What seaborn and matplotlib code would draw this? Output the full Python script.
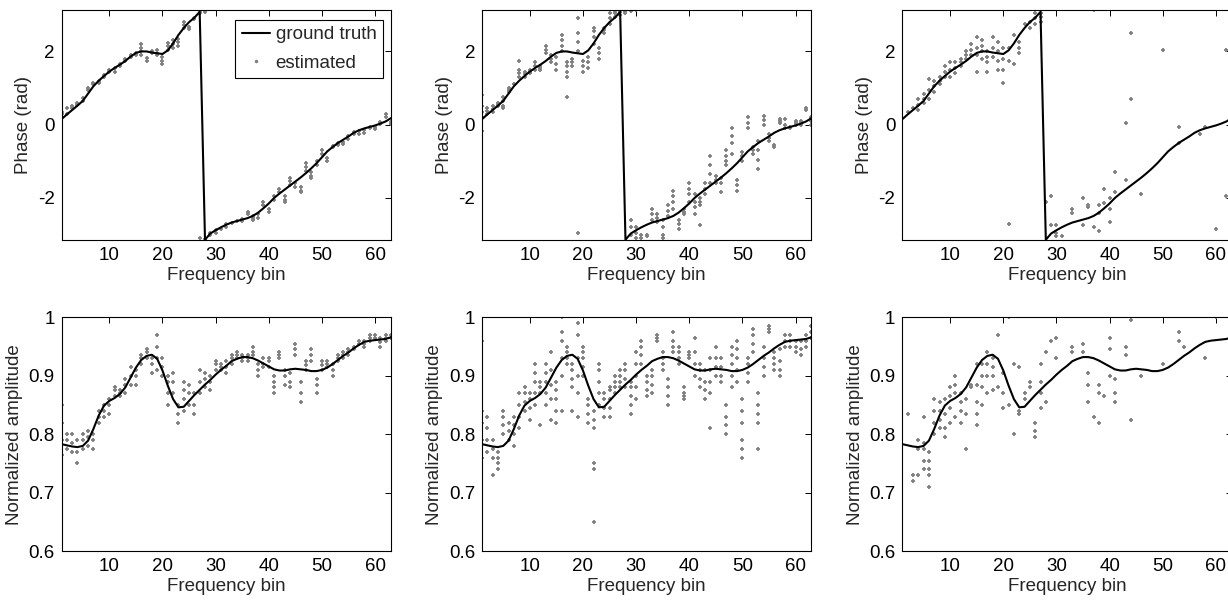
import matplotlib
matplotlib.use("Agg")
import matplotlib.pyplot as plt
from matplotlib.lines import Line2D
import seaborn as sns
import pandas as pd
import numpy as np

bins = list(range(1, 64))

phase_true = [0.15, 0.28, 0.40, 0.52, 0.65, 0.85, 1.05, 1.20, 1.33, 1.45,
              1.55, 1.64, 1.74, 1.86, 1.96, 2.00, 2.00, 1.97, 1.95, 1.93,
              2.03, 2.22, 2.45, 2.64, 2.80, 2.92, 3.08, -3.14, -2.97, -2.88,
              -2.80, -2.73, -2.67, -2.63, -2.59, -2.55, -2.49, -2.40, -2.28, -2.15,
              -2.00, -1.88, -1.77, -1.66, -1.55, -1.44, -1.32, -1.19, -1.05, -0.89,
              -0.73, -0.61, -0.50, -0.41, -0.32, -0.22, -0.15, -0.10, -0.06, -0.02,
              0.03, 0.09, 0.18]

amp_true = [0.783, 0.781, 0.779, 0.778, 0.780, 0.789, 0.809, 0.832, 0.849, 0.857,
            0.862, 0.869, 0.880, 0.897, 0.914, 0.927, 0.934, 0.936, 0.929, 0.909,
            0.883, 0.860, 0.846, 0.847, 0.857, 0.867, 0.876, 0.885, 0.893, 0.902,
            0.910, 0.917, 0.925, 0.929, 0.932, 0.932, 0.930, 0.926, 0.921, 0.916,
            0.911, 0.909, 0.909, 0.911, 0.912, 0.911, 0.910, 0.908, 0.908, 0.910,
            0.914, 0.920, 0.927, 0.934, 0.940, 0.947, 0.953, 0.958, 0.960, 0.961,
            0.962, 0.963, 0.966]

# estimated values per frequency bin (bin 1 .. 63)
phase_est_low = [
    [0.2, 0.3, 0.35], [0.3, 0.45], [0.45, 0.5], [0.55, 0.6], [0.65, 0.72],
    [0.95, 1.0], [1.1, 1.15], [1.15, 1.2], [1.3, 1.35], [1.45, 1.5],
    [1.45, 1.55], [1.6, 1.65], [1.75, 1.8], [1.85, 1.9], [1.9, 1.95],
    [1.9, 2.0, 2.1, 2.2], [1.75, 1.82], [1.95, 2.0], [1.9, 1.95, 2.05], [1.65, 1.75, 1.85],
    [2.05, 2.15, 2.22], [2.1, 2.2, 2.3], [2.15, 2.25, 2.35], [2.65, 2.72, 2.8], [2.6, 2.68],
    [2.88, 2.92], [3.05, 3.1, -3.1], [3.08, -3.12], [-3.0, -2.95], [-2.95, -2.88],
    [-2.85], [-2.78, -2.72], [-2.68], [-2.62], [-2.58, -2.62],
    [-2.38, -2.45], [-2.5, -2.55, -2.6], [-2.45, -2.55], [-2.1, -2.2], [-2.3, -2.38],
    [-1.95, -2.05], [-1.75, -1.85], [-1.95, -2.05, -2.1], [-1.45, -1.55, -1.65], [-1.6, -1.7],
    [-1.7, -1.8, -1.85], [-1.05, -1.15, -1.25], [-1.3, -1.4, -1.45], [-1.0, -1.1], [-0.7, -0.8],
    [-0.9, -1.0], [-0.58, -0.62], [-0.5, -0.55], [-0.48, -0.52], [-0.3, -0.38],
    [-0.2, -0.25], [-0.18, -0.25], [-0.15, -0.22], [-0.05, -0.1], [-0.05, -0.12],
    [0.02, 0.08], [0.2, 0.28], [0.02, 0.08]]

phase_est_mid = [
    [0.8, 0.5, 0.35, 0.2, -0.18], [0.3, 0.38, 0.45], [0.35, 0.42, 0.5], [0.5, 0.55, 0.6], [0.45, 0.5, 0.65, 0.75],
    [0.9, 0.95, 1.0], [1.1, 1.12], [1.3, 1.4, 1.5, 1.75], [1.3, 1.38, 1.45], [1.4, 1.45, 1.5],
    [1.5, 1.6, 1.7], [1.5, 1.55, 1.6], [1.95, 2.05, 2.15], [1.7, 1.8, 1.9], [1.5, 1.65, 1.85],
    [2.0, 2.15, 2.3, 2.45], [1.3, 1.45, 1.6, 1.7, 0.75], [1.6, 1.7, 1.8], [2.9, 2.5, 2.25, 2.0, -2.95], [1.45, 1.6, 1.75],
    [1.55, 1.7, 1.85], [2.2, 2.4, 2.55, 2.65], [1.8, 1.95, 2.1], [2.5, 2.58, 2.65], [2.75, 2.9, 3.05],
    [2.95, 3.05, 3.1], [3.0, 3.08, 3.14], [3.05, 3.1, 3.14], [3.1, -2.6, -2.8, -3.0], [3.14, -2.8, -2.95, -3.1],
    [-3.0, -3.1], [-3.05, -3.0], [-2.3, -2.45, -2.6], [-2.45, -2.55, -2.65], [-2.6, -2.8, -3.0, -3.1],
    [-2.2, -2.35, -2.5], [-1.8, -1.95, -2.1, -2.3], [-2.6, -2.72, -2.85], [-2.3, -2.38, -2.45], [-1.6, -1.75, -1.9, -2.1],
    [-1.9, -2.1, -2.25, -2.45], [-2.0, -2.1, -2.2, -2.75], [-1.6, -1.75, -1.9], [-0.85, -1.1, -1.35, -1.6], [-1.4, -1.5, -1.6],
    [-1.45, -1.6, -1.85], [-0.7, -0.85, -1.0, -1.1], [-0.1, -0.3, -0.5, -0.8], [-1.5, -1.65, -1.8], [-0.75, -0.85, -1.0],
    [0.2, 0.05, -0.1], [-0.6, -0.7, -0.8], [-0.45, -0.7, -0.95, -1.2], [0.25, 0.12, 0.0], [-0.25, -0.35, -0.45],
    [-0.55, -0.62], [0.05, 0.1, 0.15], [-0.1, 0.0, 0.15], [-0.05, -0.1], [0.0, 0.05, 0.1],
    [0.0, 0.05, 0.1], [0.4, 0.45], [0.0, 0.1, 0.2]]

phase_est_high = [
    [], [0.35], [0.45], [0.4, 0.55, 0.7], [0.6, 0.7, 0.85],
    [0.7, 0.95, 1.25], [0.9, 1.05, 1.2], [1.1, 1.2, 1.3], [1.3, 1.45, 1.6], [1.3, 1.5, 1.7],
    [1.4, 1.55, 1.7], [1.6, 1.7, 1.8], [1.8, 1.9, 2.0], [1.9, 2.05, 2.2], [1.45, 1.9, 2.1, 2.4],
    [1.8, 2.0, 2.15, 2.3], [1.45, 1.7, 1.85, 2.0], [1.85, 2.1, 2.4], [1.5, 1.75, 2.0, 2.25], [1.15, 1.5, 1.8, 2.1],
    [1.75, 2.1, -2.7], [1.65, 2.45], [1.95, 2.1, 2.25], [2.75], [2.65, 2.8],
    [2.75, 2.9, 3.05], [2.8, 2.95, 3.05], [-2.1], [-1.95, -2.75], [-2.75, -2.95, -3.05],
    [-3.05], [], [-2.3, -2.4], [], [-2.0, -2.75],
    [-2.2, -2.25], [3.12, -2.8], [-2.2, -2.4, -2.9], [-1.75, -2.15], [-2.0, -2.3, -2.65],
    [-1.3, -1.85], [], [-1.5, 0.05], [2.5, 0.7], [],
    [-1.9], [], [], [], [2.05],
    [], [], [-0.05, -0.5], [], [],
    [], [-0.25], [-0.05], [], [-2.85],
    [], [2.05, -1.95], []]

amp_est_low = [
    [0.765, 0.79, 0.82, 0.85], [0.775, 0.79, 0.8], [0.77, 0.785, 0.8], [0.75, 0.77, 0.79], [0.775, 0.79, 0.8],
    [0.78, 0.795, 0.805], [0.775, 0.79, 0.8], [0.82, 0.83, 0.84], [0.83, 0.84, 0.85], [0.835, 0.85, 0.86],
    [0.865, 0.875, 0.88], [0.865, 0.87, 0.875], [0.87, 0.885, 0.895], [0.885, 0.9, 0.915], [0.885, 0.9, 0.91],
    [0.92, 0.93, 0.935], [0.93, 0.94, 0.945], [0.905, 0.92, 0.93], [0.91, 0.93, 0.95, 0.97], [0.9, 0.915, 0.93],
    [0.85, 0.87, 0.89, 0.9], [0.87, 0.89, 0.905], [0.82, 0.835, 0.85], [0.84, 0.86, 0.875, 0.89], [0.85, 0.87, 0.885],
    [0.835, 0.85, 0.87], [0.87, 0.89, 0.91], [0.88, 0.895, 0.905], [0.875, 0.89, 0.9], [0.91, 0.92, 0.925],
    [0.91, 0.915, 0.92], [0.905, 0.915, 0.925], [0.92, 0.93, 0.935], [0.93, 0.935, 0.94], [0.925, 0.93, 0.935],
    [0.925, 0.93, 0.935], [0.935, 0.94, 0.95], [0.9, 0.91, 0.92], [0.915, 0.92, 0.93], [0.915, 0.925, 0.93],
    [0.87, 0.88, 0.89, 0.9], [0.93, 0.935, 0.94], [0.885, 0.9, 0.91], [0.88, 0.89, 0.905], [0.935, 0.945, 0.955],
    [0.855, 0.87, 0.89], [0.91, 0.918, 0.925], [0.925, 0.935, 0.945], [0.87, 0.885, 0.895], [0.91, 0.918, 0.925],
    [0.915, 0.92, 0.925], [0.9, 0.91, 0.92], [0.925, 0.93, 0.935], [0.93, 0.935, 0.94], [0.935, 0.94, 0.945],
    [0.945, 0.95], [0.955, 0.96], [0.95, 0.955, 0.96], [0.96, 0.965, 0.97], [0.965, 0.97],
    [0.95, 0.958, 0.965], [0.96, 0.965, 0.97], [0.965, 0.97]]

amp_est_mid = [
    [0.76, 0.79, 0.82, 0.84, 0.96], [0.77, 0.79, 0.81, 0.83], [0.73, 0.76, 0.775, 0.79], [0.74, 0.75, 0.76, 0.77], [0.8, 0.815, 0.83, 0.84],
    [0.79, 0.805, 0.82], [0.78, 0.8, 0.815, 0.83], [0.81, 0.83, 0.85, 0.87], [0.84, 0.855, 0.87, 0.88], [0.825, 0.845, 0.86, 0.87],
    [0.85, 0.87, 0.89, 0.905, 0.92], [0.815, 0.87, 0.88, 0.89], [0.85, 0.87, 0.89, 0.905, 0.92], [0.825, 0.86, 0.885, 0.91, 0.94], [0.82, 0.84, 0.86, 0.875, 0.89],
    [0.84, 0.9, 0.93, 0.96, 0.975, 1.0], [0.92, 0.93, 0.94, 0.95], [0.84, 0.88, 0.895, 0.91, 0.92], [0.83, 0.87, 0.9, 0.93, 0.97, 0.99], [0.9, 0.915, 0.93, 0.94, 0.95],
    [0.82, 0.835, 0.85, 0.86], [0.65, 0.74, 0.75, 0.81, 0.825, 0.84], [0.85, 0.87, 0.89, 0.91, 0.92], [0.83, 0.845, 0.86, 0.87], [0.83, 0.845, 0.86, 0.875, 0.88],
    [0.87, 0.88, 0.89, 0.9], [0.88, 0.89, 0.9, 0.91], [0.88, 0.895, 0.91, 0.92], [0.835, 0.85, 0.865, 0.88, 0.89], [0.86, 0.88, 0.9, 0.92, 0.94],
    [0.92, 0.935, 0.95, 0.96], [0.865, 0.875, 0.89, 0.9], [0.87, 0.885, 0.9, 0.91], [0.96, 0.965, 0.97], [0.91, 0.92, 0.93, 0.94],
    [0.85, 0.865, 0.88, 0.895], [0.94, 0.95, 0.96, 0.975], [0.92, 0.93, 0.94, 0.95], [0.86, 0.865, 0.87, 0.88], [0.93, 0.935, 0.94],
    [0.9, 0.92, 0.94, 0.965], [0.88, 0.895, 0.91, 0.92], [0.86, 0.875, 0.89, 0.91], [0.81, 0.87, 0.89, 0.91, 0.93], [0.9, 0.915, 0.93, 0.95],
    [0.89, 0.9, 0.915, 0.93], [0.8, 0.815, 0.83, 0.85], [0.88, 0.9, 0.92, 0.935, 0.95], [0.89, 0.91, 0.93, 0.945, 0.96], [0.76, 0.775, 0.79, 0.82, 0.84, 0.86],
    [0.89, 0.905, 0.92, 0.93], [0.94, 0.955, 0.97, 0.98], [0.775, 0.82, 0.835, 0.85, 0.87], [0.9, 0.915, 0.93, 0.95], [0.975, 0.98, 0.985],
    [0.91, 0.92, 0.93, 0.94], [0.9, 0.91, 0.925, 0.945], [0.95, 0.96, 0.97], [0.95, 0.96, 0.97], [0.94, 0.95, 0.96],
    [0.935, 0.945, 0.96], [0.95, 0.96, 0.97], [0.965, 0.975, 0.985]]

amp_est_high = [
    [], [0.835], [0.72, 0.73], [0.73, 0.775, 0.79], [0.74, 0.755, 0.775, 0.785, 0.83],
    [0.71, 0.73, 0.74, 0.755, 0.77], [0.8, 0.82, 0.84, 0.86], [0.81, 0.825, 0.84, 0.855], [0.795, 0.81, 0.835, 0.86], [0.82, 0.845, 0.865, 0.88],
    [0.83, 0.87, 0.885, 0.9], [0.82, 0.84, 0.855, 0.87], [0.775, 0.835, 0.86], [0.88, 0.885], [0.815, 0.835, 0.855, 0.885, 0.92],
    [0.85, 0.88, 0.9, 0.92], [0.87, 0.9, 0.92, 0.94], [0.875, 0.9, 0.915, 0.93], [0.88, 0.97], [0.845, 0.87, 0.905],
    [0.85, 1.0], [0.8, 0.92], [0.835, 0.84, 0.915], [0.86, 0.87], [0.88, 0.89],
    [0.795, 0.805, 0.82], [0.845, 0.87, 0.89, 0.92], [0.855, 0.94], [0.96], [0.93, 0.965],
    [], [], [0.94, 0.95], [], [0.94, 0.955],
    [0.855, 0.885, 0.905], [0.83], [0.82, 0.87, 0.885], [0.865], [0.9, 0.945, 0.965],
    [0.855, 0.87, 0.895], [], [0.935, 0.95], [0.825, 0.995], [],
    [0.9], [], [], [], [0.92],
    [], [], [0.96, 0.975], [0.95], [],
    [], [], [0.93], [], [1.0],
    [], [], []]


def to_frame(est):
    xs, ys = [], []
    for b, vals in zip(bins, est):
        for v in vals:
            xs.append(b)
            ys.append(v)
    return pd.DataFrame({"bin": xs, "value": ys})


sns.set_style("white")
plt.rcParams["font.family"] = ["Liberation Sans", "DejaVu Sans"]
plt.rcParams["axes.unicode_minus"] = False

fig = plt.figure(figsize=(12.28, 6.01), dpi=100)

lefts = [0.0501, 0.3925, 0.7348]
width = 0.2683
top_row = (0.601, 0.383)
bottom_row = (0.083, 0.389)

phase_sets = [phase_est_low, phase_est_mid, phase_est_high]
amp_sets = [amp_est_low, amp_est_mid, amp_est_high]

gray = "#808080"


def style_axes(ax):
    for s in ax.spines.values():
        s.set_visible(True)
        s.set_color("black")
        s.set_linewidth(0.8)
    ax.tick_params(direction="in", length=4, width=0.7, top=True, right=True,
                   labelsize=13.5, colors="black", pad=5)
    ax.set_xlim(1, 63)
    ax.set_xticks([10, 20, 30, 40, 50, 60])
    ax.set_xlabel("Frequency bin", fontsize=13.5, labelpad=2)


for i in range(3):
    # phase row
    ax = fig.add_axes([lefts[i], top_row[0], width, top_row[1]])
    df = to_frame(phase_sets[i])
    sns.scatterplot(data=df, x="bin", y="value", ax=ax, marker="+", color=gray,
                    s=10, linewidth=1.3, legend=False, zorder=2)
    sns.lineplot(x=bins, y=phase_true, ax=ax, color="black", linewidth=1.5,
                 zorder=3)
    style_axes(ax)
    ax.set_ylim(-np.pi, np.pi)
    ax.set_yticks([-2, 0, 2])
    ax.set_ylabel("Phase (rad)", fontsize=13.5)
    if i == 0:
        handles = [Line2D([], [], color="black", linewidth=1.5),
                   Line2D([], [], color=gray, marker=".", markersize=3,
                          linestyle="none")]
        leg = ax.legend(handles, ["ground truth", "estimated"], loc="upper right",
                        fontsize=13.5, frameon=True, fancybox=False,
                        edgecolor="black", framealpha=1, borderpad=0.35,
                        labelspacing=0.6, handlelength=1.5, handletextpad=0.3,
                        borderaxespad=0, bbox_to_anchor=(0.976, 0.957))
        leg.get_frame().set_linewidth(0.8)

    # amplitude row
    ax = fig.add_axes([lefts[i], bottom_row[0], width, bottom_row[1]])
    df = to_frame(amp_sets[i])
    sns.scatterplot(data=df, x="bin", y="value", ax=ax, marker="+", color=gray,
                    s=10, linewidth=1.3, legend=False, zorder=2)
    sns.lineplot(x=bins, y=amp_true, ax=ax, color="black", linewidth=1.5,
                 zorder=3)
    style_axes(ax)
    ax.set_ylim(0.6, 1.0)
    ax.set_yticks([0.6, 0.7, 0.8, 0.9, 1.0])
    ax.set_yticklabels(["0.6", "0.7", "0.8", "0.9", "1"])
    ax.set_ylabel("Normalized amplitude", fontsize=13.5)

fig.savefig("out.png", dpi=100)
